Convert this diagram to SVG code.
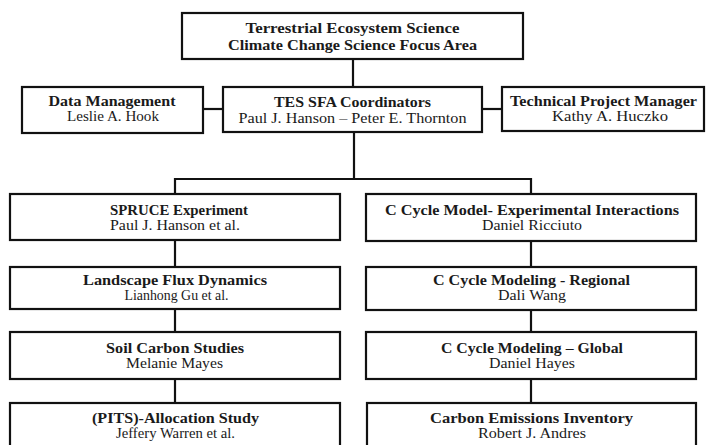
<svg xmlns="http://www.w3.org/2000/svg" width="706" height="445" viewBox="0 0 706 445">
<style>
.box{fill:#fff;stroke:#111;stroke-width:2.2}
.c{stroke:#111;stroke-width:2.2;fill:none}
text{font-family:"Liberation Serif","Times New Roman",serif;font-size:15px;fill:#1a1a1a;text-anchor:middle}
.b{font-weight:bold}
</style>
<rect width="706" height="445" fill="#fff"/>
<g id="connectors">
<line class="c" x1="353" y1="59" x2="353" y2="87"/>
<line class="c" x1="203" y1="109" x2="223" y2="109"/>
<line class="c" x1="482" y1="109" x2="502" y2="109"/>
<line class="c" x1="354" y1="132" x2="354" y2="179"/>
<polyline class="c" points="175,194 175,179 531,179 531,194"/>
<line class="c" x1="175" y1="240" x2="175" y2="267"/>
<line class="c" x1="175" y1="309" x2="175" y2="332"/>
<line class="c" x1="175" y1="379" x2="175" y2="403"/>
<line class="c" x1="531" y1="241" x2="531" y2="267"/>
<line class="c" x1="531" y1="310" x2="531" y2="332"/>
<line class="c" x1="531" y1="379" x2="531" y2="403"/>
</g>
<g id="tes">
<rect class="box" x="182" y="13" width="341" height="46"/>
<text class="b" x="352.5" y="33" textLength="214" lengthAdjust="spacingAndGlyphs">Terrestrial Ecosystem Science</text>
<text class="b" x="352.5" y="50" textLength="249" lengthAdjust="spacingAndGlyphs">Climate Change Science Focus Area</text>
</g>
<g id="coordinators">
<rect class="box" x="223" y="87" width="259" height="45"/>
<text class="b" x="352.5" y="107" textLength="157" lengthAdjust="spacingAndGlyphs">TES SFA Coordinators</text>
<text x="352.5" y="123" textLength="228" lengthAdjust="spacingAndGlyphs">Paul J. Hanson – Peter E. Thornton</text>
</g>
<g id="data">
<rect class="box" x="22" y="87" width="181" height="46"/>
<text class="b" x="112" y="106" textLength="127" lengthAdjust="spacingAndGlyphs">Data Management</text>
<text x="113" y="121" textLength="92" lengthAdjust="spacingAndGlyphs">Leslie A. Hook</text>
</g>
<g id="tpm">
<rect class="box" x="502" y="87" width="202" height="44"/>
<text class="b" x="603.5" y="106" textLength="187" lengthAdjust="spacingAndGlyphs">Technical Project Manager</text>
<text x="610" y="121" textLength="116" lengthAdjust="spacingAndGlyphs">Kathy A. Huczko</text>
</g>
<g id="spruce">
<rect class="box" x="10" y="194" width="330" height="46"/>
<text class="b" x="179" y="215" textLength="138" lengthAdjust="spacingAndGlyphs">SPRUCE Experiment</text>
<text x="175" y="230" textLength="130" lengthAdjust="spacingAndGlyphs">Paul J. Hanson et al.</text>
</g>
<g id="landscape">
<rect class="box" x="10" y="267" width="330" height="42"/>
<text class="b" x="175" y="285" textLength="184" lengthAdjust="spacingAndGlyphs">Landscape Flux Dynamics</text>
<text x="176.5" y="300" textLength="104" lengthAdjust="spacingAndGlyphs">Lianhong Gu et al.</text>
</g>
<g id="soil">
<rect class="box" x="10" y="332" width="330" height="47"/>
<text class="b" x="175" y="353" textLength="138" lengthAdjust="spacingAndGlyphs">Soil Carbon Studies</text>
<text x="174.5" y="368" textLength="97" lengthAdjust="spacingAndGlyphs">Melanie Mayes</text>
</g>
<g id="pits">
<rect class="box" x="10" y="403" width="330" height="46"/>
<text class="b" x="175.5" y="423" textLength="167" lengthAdjust="spacingAndGlyphs">(PITS)-Allocation Study</text>
<text x="175.5" y="438" textLength="119" lengthAdjust="spacingAndGlyphs">Jeffery Warren et al.</text>
</g>
<g id="interactions">
<rect class="box" x="366" y="194" width="330" height="47"/>
<text class="b" x="532" y="215" textLength="294" lengthAdjust="spacingAndGlyphs">C Cycle Model- Experimental Interactions</text>
<text x="532" y="230" textLength="100" lengthAdjust="spacingAndGlyphs">Daniel Ricciuto</text>
</g>
<g id="regional">
<rect class="box" x="366" y="267" width="330" height="43"/>
<text class="b" x="531.5" y="285" textLength="197" lengthAdjust="spacingAndGlyphs">C Cycle Modeling - Regional</text>
<text x="532" y="300" textLength="68" lengthAdjust="spacingAndGlyphs">Dali Wang</text>
</g>
<g id="global">
<rect class="box" x="366" y="332" width="330" height="47"/>
<text class="b" x="532" y="353" textLength="182" lengthAdjust="spacingAndGlyphs">C Cycle Modeling – Global</text>
<text x="532" y="368" textLength="86" lengthAdjust="spacingAndGlyphs">Daniel Hayes</text>
</g>
<g id="emissions">
<rect class="box" x="367" y="403" width="329" height="46"/>
<text class="b" x="531.5" y="423" textLength="203" lengthAdjust="spacingAndGlyphs">Carbon Emissions Inventory</text>
<text x="532" y="438" textLength="108" lengthAdjust="spacingAndGlyphs">Robert J. Andres</text>
</g>
</svg>
